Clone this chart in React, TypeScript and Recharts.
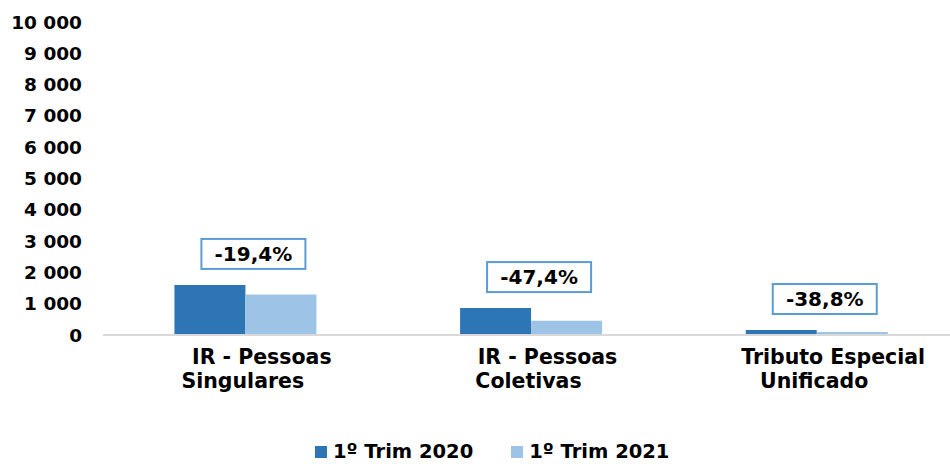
import React from 'react';
import { BarChart, Bar, XAxis, YAxis, LabelList } from 'recharts';

const categories = ['IR - Pessoas\nSingulares', 'IR - Pessoas\nColetivas', 'Tributo Especial\nUnificado'];
const trim2020 = [1600, 860, 160];
const trim2021 = [1290, 452, 98];
const changes = ['-19,4%', '-47,4%', '-38,8%'];
const yTicks = [0, 1000, 2000, 3000, 4000, 5000, 6000, 7000, 8000, 9000, 10000];

const DARK = '#2e75b6';
const LIGHT = '#9dc3e6';
const FONT = '"DejaVu Sans", sans-serif';

const data = categories.map((name, i) => ({
  name,
  v2020: trim2020[i],
  v2021: trim2021[i],
  change: changes[i],
}));

const fmt = (v: number) =>
  v >= 1000 ? `${Math.floor(v / 1000)} ${String(v % 1000).padStart(3, '0')}` : String(v);

const CategoryTick = ({ x, y, payload }: any) => {
  const lines = String(payload.value).split('\n');
  return (
    <g>
      <text x={x + 16} y={y + 29} textAnchor="middle" fontFamily={FONT} fontWeight="bold" fontSize={20.5} fill="#000">
        {lines[0]}
      </text>
      <text x={x - 3} y={y + 53} textAnchor="middle" fontFamily={FONT} fontWeight="bold" fontSize={20.5} fill="#000">
        {lines[1]}
      </text>
    </g>
  );
};

const ChangeBox = (props: any) => {
  const { x, y, width, index } = props;
  const cx = x + width + 8;
  const bottom = y - 16;
  const w = 104;
  const h = 30;
  return (
    <g>
      <rect x={cx - w / 2} y={bottom - h} width={w} height={h} fill="#fff" stroke="#5b9bd5" strokeWidth={2} />
      <text x={cx} y={bottom - h / 2} dy="0.36em" textAnchor="middle" fontFamily={FONT} fontWeight="bold" fontSize={20} fill="#000">
        {changes[index]}
      </text>
    </g>
  );
};

export default function App() {
  return (
    <div style={{ position: 'fixed', left: 0, top: 0, width: 950, height: 464, overflow: 'hidden', background: '#fff' }}>
      <BarChart
        width={960}
        height={464}
        data={data}
        margin={{ top: 22, right: 0, bottom: 69, left: 0 }}
        barCategoryGap="25%"
        barGap={0}
      >
        <XAxis
          dataKey="name"
          height={60}
          tickLine={false}
          tickSize={0}
          tickMargin={0}
          axisLine={{ stroke: '#d9d9d9', strokeWidth: 2 }}
          tick={<CategoryTick />}
          interval={0}
        />
        <YAxis
          width={103}
          domain={[0, 10000]}
          ticks={yTicks}
          axisLine={false}
          tickLine={false}
          tickSize={0}
          tickMargin={21}
          tickFormatter={fmt}
          tick={{ fontFamily: FONT, fontWeight: 'bold', fontSize: 18.5, fill: '#000' }}
        />
        <Bar dataKey="v2020" fill={DARK} isAnimationActive={false}>
          <LabelList dataKey="change" content={<ChangeBox />} />
        </Bar>
        <Bar dataKey="v2021" fill={LIGHT} isAnimationActive={false} />
      </BarChart>
      <div
        style={{
          position: 'absolute',
          left: 315,
          top: 442,
          display: 'flex',
          alignItems: 'center',
          fontFamily: FONT,
          fontWeight: 'bold',
          fontSize: 19.5,
          color: '#000',
          lineHeight: '20px',
          whiteSpace: 'nowrap',
        }}
      >
        <span style={{ width: 12, height: 12, background: DARK, display: 'inline-block', marginRight: 6 }} />
        <span>1º Trim 2020</span>
        <span style={{ width: 12, height: 12, background: LIGHT, display: 'inline-block', marginLeft: 38, marginRight: 6 }} />
        <span>1º Trim 2021</span>
      </div>
    </div>
  );
}
